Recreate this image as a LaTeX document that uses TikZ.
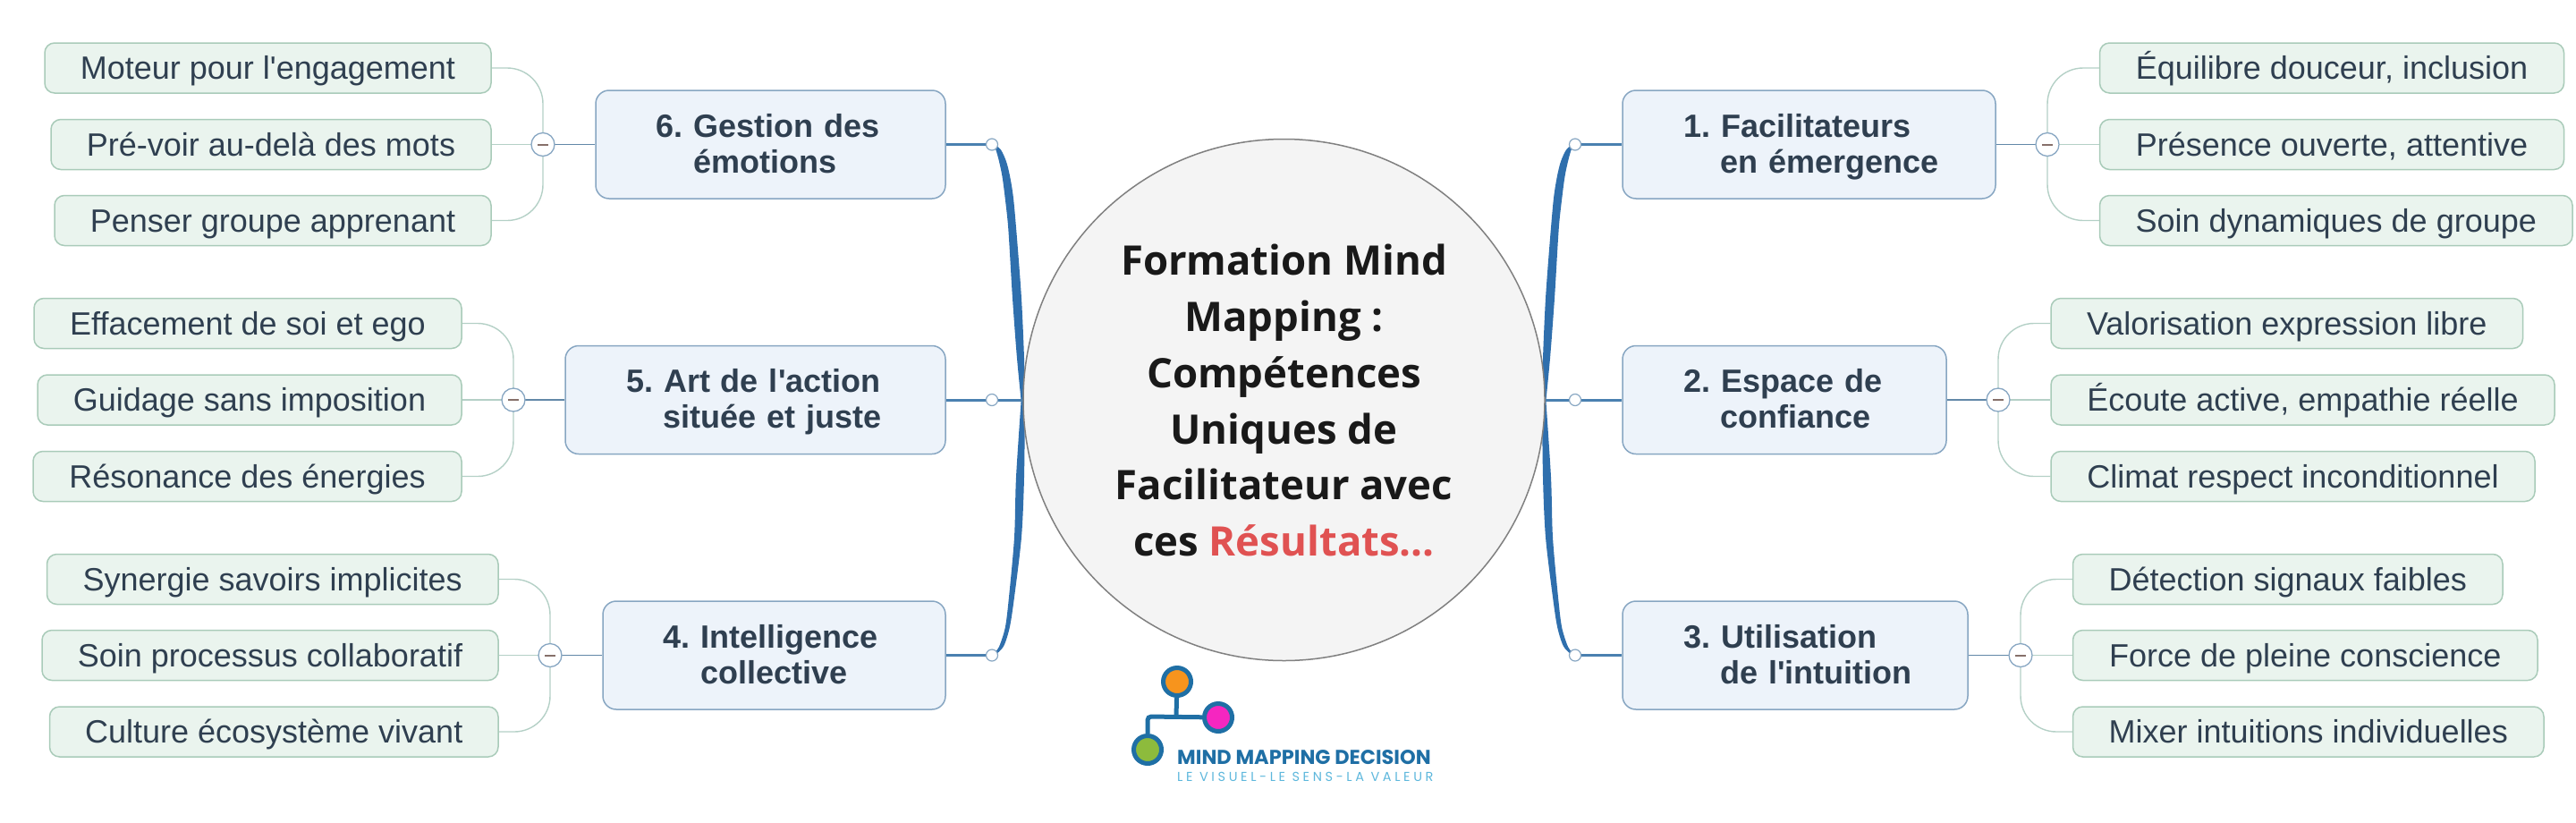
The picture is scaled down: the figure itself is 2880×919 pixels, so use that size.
\documentclass[tikz,border=0pt]{standalone}
\usepackage{fontspec}
\setmainfont{Liberation Sans}[Ligatures=TeXOff]
\newfontfamily\titlefont{Open Sans}
\newfontfamily\logofont{Poppins}
\usetikzlibrary{calc}
\frenchspacing
\pgfdeclarelayer{bg}
\pgfsetlayers{bg,main}
\definecolor{inkc}{HTML}{2F3F50}
\definecolor{leaffill}{HTML}{EAF4EE}
\definecolor{leafline}{HTML}{A9CBB9}
\definecolor{boxfill}{HTML}{EDF3FA}
\definecolor{boxline}{HTML}{87A6C2}
\definecolor{trunkc}{HTML}{2F6FAD}
\definecolor{armc}{HTML}{4A80B0}
\definecolor{stemc}{HTML}{6288A8}
\definecolor{twigc}{HTML}{B4D0C6}
\definecolor{minusc}{HTML}{86706A}
\definecolor{logoc}{HTML}{1F6FA5}
\definecolor{tagc}{HTML}{5DB7DC}
\definecolor{redc}{HTML}{E05252}
\definecolor{dotorange}{HTML}{F7941D}
\definecolor{dotmagenta}{HTML}{F526C0}
\definecolor{dotgreen}{HTML}{8DBB3C}
\tikzset{
  x=1pt,y=-1pt,
  leafbox/.style={draw=leafline,fill=leaffill,line width=1.5pt,rounded corners=11pt,inner sep=0pt,
    minimum height=56pt,text height=30pt,text depth=5pt,text=inkc,font=\fontsize{36}{40}\selectfont},
  branchbox/.style={draw=boxline,fill=boxfill,line width=1.5pt,rounded corners=15pt,inner sep=0pt,
    minimum height=121pt,align=left,text=inkc,font=\bfseries\fontsize{36}{40}\selectfont},
  knob/.style={circle,draw=boxline,fill=white,line width=1.2pt,minimum size=13pt,inner sep=0pt},
  junction/.style={circle,draw=boxline,fill=white,line width=1.3pt,minimum size=26pt,inner sep=0pt},
  arm/.style={draw=armc,line width=3pt},
  stem/.style={draw=stemc,line width=1.6pt},
  twig/.style={draw=twigc,line width=1.4pt,rounded corners=40pt},
  trunk/.style={fill=trunkc},
  logoline/.style={draw=logoc,line width=5pt},
  logodot/.style={circle,draw=logoc,line width=5pt,minimum size=31pt,inner sep=0pt},
}
% name x1 x2 yc text
\newcommand{\leafn}[5]{%
  \pgfmathsetmacro{\lw}{#3-#2}\pgfmathsetmacro{\lc}{(#3+#2)/2}%
  \node[leafbox,minimum width=\lw pt] (#1) at (\lc,#4) {#5};}
% name x1 x2 yc pad indent line1 line2
\newcommand{\branchn}[8]{%
  \pgfmathsetmacro{\lw}{#3-#2}\pgfmathsetmacro{\lc}{(#3+#2)/2}\pgfmathsetmacro{\ind}{#5+#6}%
  \node[branchbox,text width=\lw pt] (#1) at (\lc,#4)
   {\hspace*{#5pt}\rule{0pt}{33pt}#7\\\hspace*{\ind pt}#8\rule[-10pt]{0pt}{10pt}};}
% name x y
\newcommand{\junc}[3]{%
  \node[junction] (#1) at (#2,#3) {};
  \draw[draw=minusc,line width=2pt] ($(#1.center)+(-6,0)$) -- ($(#1.center)+(6,0)$);}
% upper trunk: knob, xscale
\newcommand{\trunkup}[2]{%
  \begin{scope}[shift={(#1.center)},xscale=#2]
    \fill[trunk] plot[smooth,tension=0.5] coordinates {(0,-1)(4,5)(8,19)(12,39)(17,80)(19,105)(23,172)(28,239)(33,290)}
      -- plot[smooth,tension=0.5] coordinates {(37,290)(36,239)(33,172)(28,105)(24,60)(20,35)(16,19)(10,6)(2,-1)} -- cycle;
  \end{scope}}
% lower trunk: knob, xscale
\newcommand{\trunkdown}[2]{%
  \begin{scope}[shift={(#1.center)},xscale=#2,yscale=-1]
    \fill[trunk] plot[smooth,tension=0.5] coordinates {(0,-1)(5,5)(9,12)(15,32)(19,65)(25,132)(27,199)(33,290)}
      -- plot[smooth,tension=0.5] coordinates {(37,290)(36,199)(33,132)(25,65)(20,32)(14,12)(8,4)(2,-1)} -- cycle;
  \end{scope}}
\begin{document}
\begin{tikzpicture}
\useasboundingbox (0,0) rectangle (2880,919);

\node[circle,draw=black!50,fill=black!4.5,line width=1.5pt,minimum size=583pt,inner sep=0pt,align=center,
  font=\titlefont\bfseries\fontsize{45.5}{62.8}\selectfont,text=black!90] (root) at (1435.5,447)
  {\rule{0pt}{36pt}Formation Mind\\Mapping :\\Compétences\\Uniques de\\Facilitateur avec\\ces \textcolor{redc}{Résultats...}};

% branches
\branchn{b1}{1814}{2231}{161.5}{68}{41}{1. Facilitateurs}{en émergence}
\branchn{b2}{1814}{2176}{447}{68}{41}{2. Espace de}{confiance}
\branchn{b3}{1814}{2200}{732.5}{68}{41}{3. Utilisation}{de l'intuition}
\branchn{b4}{674}{1057}{732.5}{67}{42}{4. Intelligence}{collective}
\branchn{b5}{632}{1057}{447}{68}{41}{5. Art de l'action}{située et juste}
\branchn{b6}{666}{1057}{161.5}{67}{42}{6. Gestion des}{émotions}

% knobs
\node[knob] (k1) at (1761,161.5) {};
\node[knob] (k2) at (1761,447) {};
\node[knob] (k3) at (1761,732.5) {};
\node[knob] (k4) at (1109,732.5) {};
\node[knob] (k5) at (1109,447) {};
\node[knob] (k6) at (1109,161.5) {};

% leaves right
\leafn{l11}{2347.5}{2866.5}{76}{Équilibre douceur, inclusion}
\leafn{l12}{2347.5}{2866.5}{161.5}{Présence ouverte, attentive}
\leafn{l13}{2347.5}{2876}{246.5}{Soin dynamiques de groupe}
\leafn{l21}{2293}{2820.5}{361.5}{Valorisation expression libre}
\leafn{l22}{2293}{2856}{447}{Écoute active, empathie réelle}
\leafn{l23}{2293}{2834}{532.5}{Climat respect inconditionnel}
\leafn{l31}{2317.5}{2798}{647.5}{Détection signaux faibles}
\leafn{l32}{2317.5}{2837}{732.5}{Force de pleine conscience}
\leafn{l33}{2317.5}{2844}{818}{Mixer intuitions individuelles}
% leaves left
\leafn{l41}{52.5}{557}{647.5}{Synergie savoirs implicites}
\leafn{l42}{47}{557}{732.5}{Soin processus collaboratif}
\leafn{l43}{55.5}{557}{818}{Culture écosystème vivant}
\leafn{l51}{38}{516}{361.5}{Effacement de soi et ego}
\leafn{l52}{42}{516}{447}{Guidage sans imposition}
\leafn{l53}{37}{516}{532.5}{Résonance des énergies}
\leafn{l61}{50}{549}{76}{Moteur pour l'engagement}
\leafn{l62}{57}{549}{161.5}{Pré-voir au-delà des mots}
\leafn{l63}{61}{549}{246.5}{Penser groupe apprenant}

% junctions
\junc{j1}{2289}{161.5}
\junc{j2}{2234}{447}
\junc{j3}{2259}{732.5}
\junc{j4}{615}{732.5}
\junc{j5}{574}{447}
\junc{j6}{607}{161.5}

\begin{pgfonlayer}{bg}
  \trunkup{k1}{-1}
  \trunkdown{k3}{-1}
  \trunkdown{k4}{1}
  \trunkup{k6}{1}
  \foreach \a/\b in {k1/b1,k2/b2,k3/b3,k4/b4,k5/b5,k6/b6} {\draw[arm] (\a.center) -- (\b);}
  \draw[arm] (k2.center) -- (root);
  \draw[arm] (k5.center) -- (root);
  \foreach \a/\b in {j1/b1,j2/b2,j3/b3,j4/b4,j5/b5,j6/b6} {\draw[stem] (\a.center) -- (\b);}
  \foreach \j/\p in {j1/l1,j2/l2,j3/l3} {
    \draw[twig] (\j.center) |- (\p1.west);
    \draw[twig] (\j.center) -- (\p2.west);
    \draw[twig] (\j.center) |- (\p3.west);
  }
  \foreach \j/\p in {j4/l4,j5/l5,j6/l6} {
    \draw[twig] (\j.center) |- (\p1.east);
    \draw[twig] (\j.center) -- (\p2.east);
    \draw[twig] (\j.center) |- (\p3.east);
  }
\end{pgfonlayer}

% logo
\node[logodot,fill=dotorange] (dotO) at (1316,762) {};
\node[logodot,fill=dotmagenta] (dotM) at (1362,802) {};
\node[logodot,fill=dotgreen] (dotG) at (1283,838) {};
\coordinate (elb) at (1283,801);
\coordinate (tee) at (1315,801);
\begin{pgfonlayer}{bg}
  \draw[logoline] (dotO) -- (tee);
  \draw[logoline,rounded corners=4pt] (dotG) -- (elb) -- (dotM);
\end{pgfonlayer}
\node[anchor=base west,inner sep=0pt,text=logoc,font=\logofont\bfseries\fontsize{22.5}{23}\selectfont] (logo1) at (1316,854) {MIND MAPPING DECISION};
\node[anchor=base west,inner sep=0pt,text=tagc,font=\logofont\fontsize{14.5}{15}\selectfont\addfontfeature{LetterSpace=25}] (logo2) at (1316,873) {LE VISUEL-LE SENS-LA VALEUR};
\end{tikzpicture}
\end{document}
